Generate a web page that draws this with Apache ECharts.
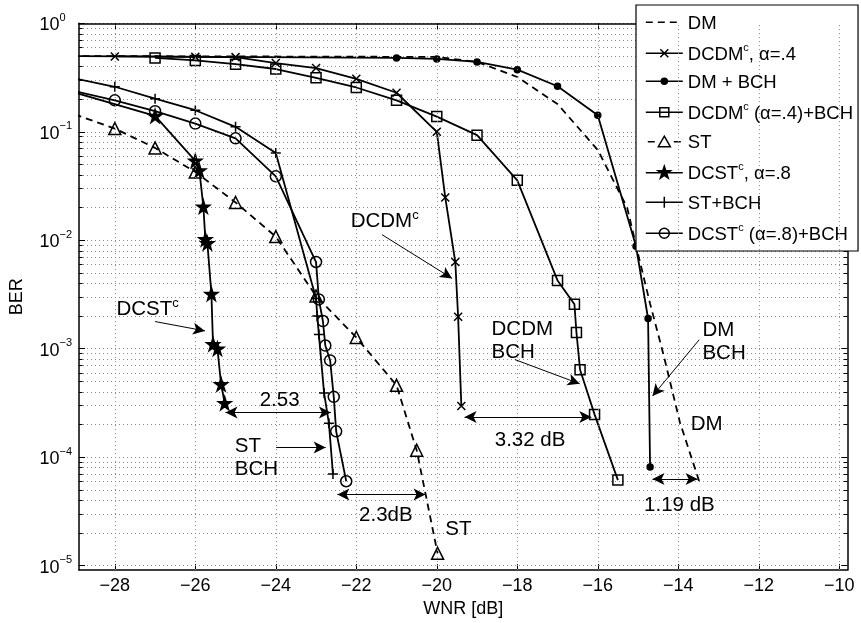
<!DOCTYPE html>
<html><head><meta charset="utf-8">
<script src="https://cdn.jsdelivr.net/npm/echarts@6/dist/echarts.min.js"></script>
<style>html,body{margin:0;padding:0;background:#fff}#c{width:861px;height:623px}</style>
</head><body><div id="c"></div>
<script>
// ---------- data ----------
const xTicks = [-28, -26, -24, -22, -20, -18, -16, -14, -12, -10];
const yTicks = [1e-5, 1e-4, 1e-3, 1e-2, 1e-1, 1];
const seriesNames = ['DM', 'DCDMc, α=.4', 'DM + BCH', 'DCDMc (α=.4)+BCH', 'ST', 'DCSTc, α=.8', 'ST+BCH', 'DCSTc (α=.8)+BCH'];

const dm = [[-30,0.5],[-20,0.49],[-19,0.44],[-18,0.32],[-17,0.18],[-16,0.068],[-15.27,0.02],[-15,0.0075],[-14.7,0.0026],[-14.37,8.9e-4],[-13.96,2.1e-4],[-13.48,6e-5]];
const dcdm = [[-28,0.495],[-26,0.49],[-25,0.488],[-24,0.43],[-23,0.387],[-22,0.308],[-21,0.229],[-20,0.1],[-19.79,0.0248],[-19.54,0.0063],[-19.47,0.00197],[-19.39,2.96e-4]];
const dmBch = [[-30,0.5],[-21,0.479],[-20,0.469],[-19,0.44],[-18,0.374],[-17,0.263],[-16,0.142],[-15.05,0.0088],[-14.75,0.0019],[-14.7,8.1e-5]];
const dcdmBch = [[-27,0.479],[-26,0.455],[-25,0.42],[-24,0.379],[-23,0.314],[-22,0.256],[-21,0.195],[-20,0.138],[-19,0.093],[-18,0.0357],[-17,0.00426],[-16.58,0.00257],[-16.53,0.00141],[-16.44,6.4e-4],[-16.08,2.48e-4],[-15.5,6.15e-5]];
const st = [[-29,0.145],[-28,0.107],[-27,0.071],[-26,0.0426],[-25,0.0223],[-24,0.0108],[-23,0.00306],[-22,0.00127],[-21,4.6e-4],[-20.5,1.16e-4],[-19.98,1.3e-5]];
const dcst = [[-29,0.23],[-27,0.14],[-26,0.054],[-25.9,0.044],[-25.8,0.0204],[-25.75,0.0102],[-25.7,0.0094],[-25.6,0.0032],[-25.56,0.0011],[-25.45,0.001],[-25.36,4.7e-4],[-25.27,3.15e-4]];
const stBch = [[-29,0.31],[-28,0.26],[-27,0.202],[-26,0.158],[-25,0.111],[-24,0.0638],[-23,0.0029],[-22.97,0.002],[-22.93,0.00135],[-22.8,3.9e-4],[-22.68,2.05e-4],[-22.58,7e-5]];
const dcstBch = [[-29,0.237],[-28,0.195],[-27,0.155],[-26,0.119],[-25,0.087],[-24,0.0388],[-23,0.0063],[-22.93,0.00285],[-22.83,0.0018],[-22.77,0.00107],[-22.65,7.8e-4],[-22.56,3.6e-4],[-22.5,1.73e-4],[-22.25,6e-5]];

// annotation arrows in data coordinates: [x1, y1, x2, y2, doubleHeaded]
const arrowsData = [
  [-27.0, 1.78e-3, -25.76, 1.46e-3, 0],
  [-21.36, 0.01125, -19.62, 4.45e-3, 0],
  [-18.06, 7.94e-4, -16.45, 4.75e-4, 0],
  [-19.31, 2.35e-4, -16.16, 2.35e-4, 1],
  [-13.48, 1.21e-3, -14.64, 3.66e-4, 0],
  [-14.64, 6.31e-5, -13.52, 6.31e-5, 1],
  [-25.25, 2.58e-4, -22.63, 2.58e-4, 1],
  [-23.99, 1.23e-4, -22.76, 1.23e-4, 0],
  [-22.47, 4.54e-5, -20.28, 4.54e-5, 1]
];
// annotation texts (left edge, vertical centre) in data coordinates
const notesText = ['{n|DCST}{s|c}', '{n|DCDM}{s|c}', '{n|DCDM}\n{n|BCH}', '{n|3.32 dB}', '{n|DM}\n{n|BCH}', '{n|DM}', '{n|1.19 dB}', '{n|2.53}', '{n|ST}\n{n|BCH}', '{n|2.3dB}', '{n|ST}'];
const notesX = [-27.96, -22.14, -18.64, -18.56, -13.40, -13.69, -14.85, -24.40, -25.02, -21.93, -19.79];
const notesY = [2.36e-3, 0.0151, 1.21e-3, 1.47e-4, 1.19e-3, 2.06e-4, 3.66e-5, 3.43e-4, 9.97e-5, 2.96e-5, 2.21e-5];

// ---------- styling ----------
const FF = '"Liberation Sans", Arial, Helvetica, sans-serif';
function rich(fs, lh) {
  const ss = Math.round(fs * 0.62);
  return {
    n: { fontSize: fs, fontFamily: FF, color: '#000', lineHeight: lh || fs + 4, verticalAlign: 'bottom' },
    s: { fontSize: ss, fontFamily: FF, color: '#000', lineHeight: ss, verticalAlign: 'top' }
  };
}
const yMinor = [];
for (let e = -5; e < 0; e++) for (let k = 2; k <= 9; k++) yMinor.push(Number((k * Math.pow(10, e)).toPrecision(3)));

const XMIN = -28.89, XMAX = -9.8, YMIN = 9.1e-6, YMAX = 1;
const gridStyle = { type: [1, 3], color: '#8a8a8a', width: 1 };
const axLine = { show: true, onZero: false, lineStyle: { color: '#000', width: 1.5 } };

function legendFmt(name) {
  const m = name.match(/^(DCDM|DCST)c(.*)$/);
  if (m) return '{n|' + m[1] + '}{s|c}{n|' + m[2] + '}';
  return '{n|' + name + '}';
}

const SW = 1.5;
function lineSeries(name, data, symbol, size, fill, dashed) {
  return {
    type: 'line', name: name, data: data, symbol: symbol, symbolSize: size,
    showSymbol: symbol !== 'none', clip: true, animation: false,
    lineStyle: { color: '#000', width: 1.8, type: dashed ? [7, 5] : 'solid' },
    itemStyle: { color: fill, borderColor: '#000', borderWidth: SW },
    emphasis: { disabled: true }, z: 3
  };
}
const xSym = 'path://M0,0L10,10M10,0L0,10';
const plusSym = 'path://M5,0L5,10M0,5L10,5';
const starSym = 'path://M50,0L61,35L98,35L68,57L79,91L50,70L21,91L32,57L2,35L39,35Z';

// legend icons (37 x 14 box): line sample + marker
const BOX = 'M0,0M37,14';
const legendIcons = [
  'path://' + BOX + 'M0,7L7,7M12,7L19,7M24,7L31,7',
  'path://' + BOX + 'M0,7L37,7M14.5,3L22.5,11M22.5,3L14.5,11',
  'path://' + BOX + 'M0,7L37,7M21.5,7A3,3,0,1,1,15.5,7A3,3,0,1,1,21.5,7Z',
  'path://' + BOX + 'M0,7L37,7M14,2.5L23,2.5L23,11.5L14,11.5Z',
  'path://' + BOX + 'M2,7L9,7M28,7L35,7M18.5,1.5L24.5,12L12.5,12Z',
  'path://' + BOX + 'M0,7L37,7M18.5,0.5L20,5L24.8,5L21,7.8L22.4,12.4L18.5,9.6L14.6,12.4L16,7.8L12.2,5L17,5Z',
  'path://' + BOX + 'M0,7L37,7M18.5,1.5L18.5,12.5',
  'path://' + BOX + 'M0,7L37,7M23.5,7A5,5,0,1,1,13.5,7A5,5,0,1,1,23.5,7Z'
];

const annSeries = {
  type: 'line', name: '_ann', data: [], silent: true, animation: false, z: 5,
  markLine: {
    silent: true, animation: false, symbol: ['none', 'arrow'], symbolSize: [9, 12],
    label: { show: false }, emphasis: { disabled: true },
    lineStyle: { color: '#000', width: 1, type: 'solid' },
    data: arrowsData.map(a => [
      { coord: [a[0], a[1]], symbol: a[4] ? 'arrow' : 'none' },
      { coord: [a[2], a[3]], symbol: 'arrow' }
    ])
  },
  markPoint: {
    silent: true, animation: false, symbol: 'circle', symbolSize: 0,
    itemStyle: { color: 'transparent' },
    label: { show: true, position: 'right', distance: 0, align: 'left', rich: rich(20.5, 23) },
    data: notesText.map((t, i) => ({ coord: [notesX[i], notesY[i]], label: { formatter: t } }))
  }
};
// vertical dotted grid lines at the x ticks
const vGridSeries = {
  type: 'line', name: '_vgrid', data: [], silent: true, animation: false, z: 1,
  markLine: {
    silent: true, animation: false, symbol: ['none', 'none'], label: { show: false },
    emphasis: { disabled: true }, lineStyle: gridStyle,
    data: xTicks.map(v => ({ xAxis: v }))
  }
};

const chart = echarts.init(document.getElementById('c'), null, { renderer: 'canvas' });
chart.setOption({
  animation: false,
  backgroundColor: '#fff',
  grid: { left: 75.3, right: 13.7, top: 23.3, bottom: 49.7, containLabel: false },
  legend: {
    data: seriesNames.map((n, i) => ({ name: n, icon: legendIcons[i] })),
    orient: 'vertical', left: 636, top: 5,
    itemWidth: 37, itemHeight: 14, itemGap: 9.0, padding: [9.2, 5, 6.8, 7.3],
    backgroundColor: '#fff', borderColor: '#000', borderWidth: 1.2, borderRadius: 0,
    selectedMode: false, formatter: legendFmt, symbolKeepAspect: false,
    itemStyle: { borderWidth: 1.5 },
    textStyle: { fontSize: 18.5, fontFamily: FF, color: '#000', rich: rich(18.5, 22) }
  },
  xAxis: [
    {
      type: 'value', min: XMIN, max: XMAX, position: 'bottom',
      axisLine: axLine,
      axisTick: { show: true, inside: true, length: 6, customValues: xTicks, lineStyle: { color: '#000', width: 1 } },
      axisLabel: { show: true, customValues: xTicks, margin: 7, color: '#000', fontSize: 18, fontFamily: FF,
        formatter: v => (v < 0 ? '\u2212' : '') + Math.abs(v) },
      splitLine: { show: false },
      name: 'WNR [dB]', nameLocation: 'middle', nameGap: 25,
      nameTextStyle: { fontSize: 18, fontFamily: FF, color: '#000' }
    },
    {
      type: 'value', min: XMIN, max: XMAX, position: 'top',
      axisLine: axLine,
      axisTick: { show: true, inside: true, length: 6, customValues: xTicks, lineStyle: { color: '#000', width: 1 } },
      axisLabel: { show: false }, splitLine: { show: false }
    }
  ],
  yAxis: [
    {
      type: 'log', logBase: 10, min: YMIN, max: YMAX, position: 'left',
      axisLine: axLine,
      axisTick: { show: true, inside: true, length: 6, customValues: yTicks, lineStyle: { color: '#000', width: 1 } },
      axisLabel: { show: true, customValues: yTicks, margin: 39.5, align: 'left',
        formatter: v => { const e = Math.round(Math.log10(v)); return '{n|10}{s|' + (e < 0 ? '\u2212' + (-e) : e) + '}'; },
        rich: rich(18) },
      splitLine: { show: true, lineStyle: gridStyle },
      name: 'BER', nameLocation: 'middle', nameGap: 53, nameRotate: 90,
      nameTextStyle: { fontSize: 18, fontFamily: FF, color: '#000' }
    },
    {
      type: 'log', logBase: 10, min: YMIN, max: YMAX, position: 'left',
      axisLine: { show: false },
      axisTick: { show: true, inside: true, length: 3.5, customValues: yMinor, lineStyle: { color: '#000', width: 1 } },
      axisLabel: { show: false }, splitLine: { show: true, lineStyle: gridStyle }
    },
    {
      type: 'log', logBase: 10, min: YMIN, max: YMAX, position: 'right',
      axisLine: axLine,
      axisTick: { show: true, inside: true, length: 6, customValues: yTicks, lineStyle: { color: '#000', width: 1 } },
      axisLabel: { show: false }, splitLine: { show: false }
    },
    {
      type: 'log', logBase: 10, min: YMIN, max: YMAX, position: 'right',
      axisLine: { show: false },
      axisTick: { show: true, inside: true, length: 3.5, customValues: yMinor, lineStyle: { color: '#000', width: 1 } },
      axisLabel: { show: false }, splitLine: { show: false }
    }
  ],
  series: [
    vGridSeries,
    lineSeries(seriesNames[0], dm, 'none', 0, '#000', true),
    lineSeries(seriesNames[1], dcdm, xSym, 8, 'none', false),
    lineSeries(seriesNames[2], dmBch, 'circle', 6, '#000', false),
    lineSeries(seriesNames[3], dcdmBch, 'rect', 10, 'none', false),
    lineSeries(seriesNames[4], st, 'triangle', 12, 'none', true),
    lineSeries(seriesNames[5], dcst, starSym, 13, '#000', false),
    lineSeries(seriesNames[6], stBch, plusSym, 10, 'none', false),
    lineSeries(seriesNames[7], dcstBch, 'circle', 11, 'none', false),
    annSeries
  ]
});
</script>
</body></html>
